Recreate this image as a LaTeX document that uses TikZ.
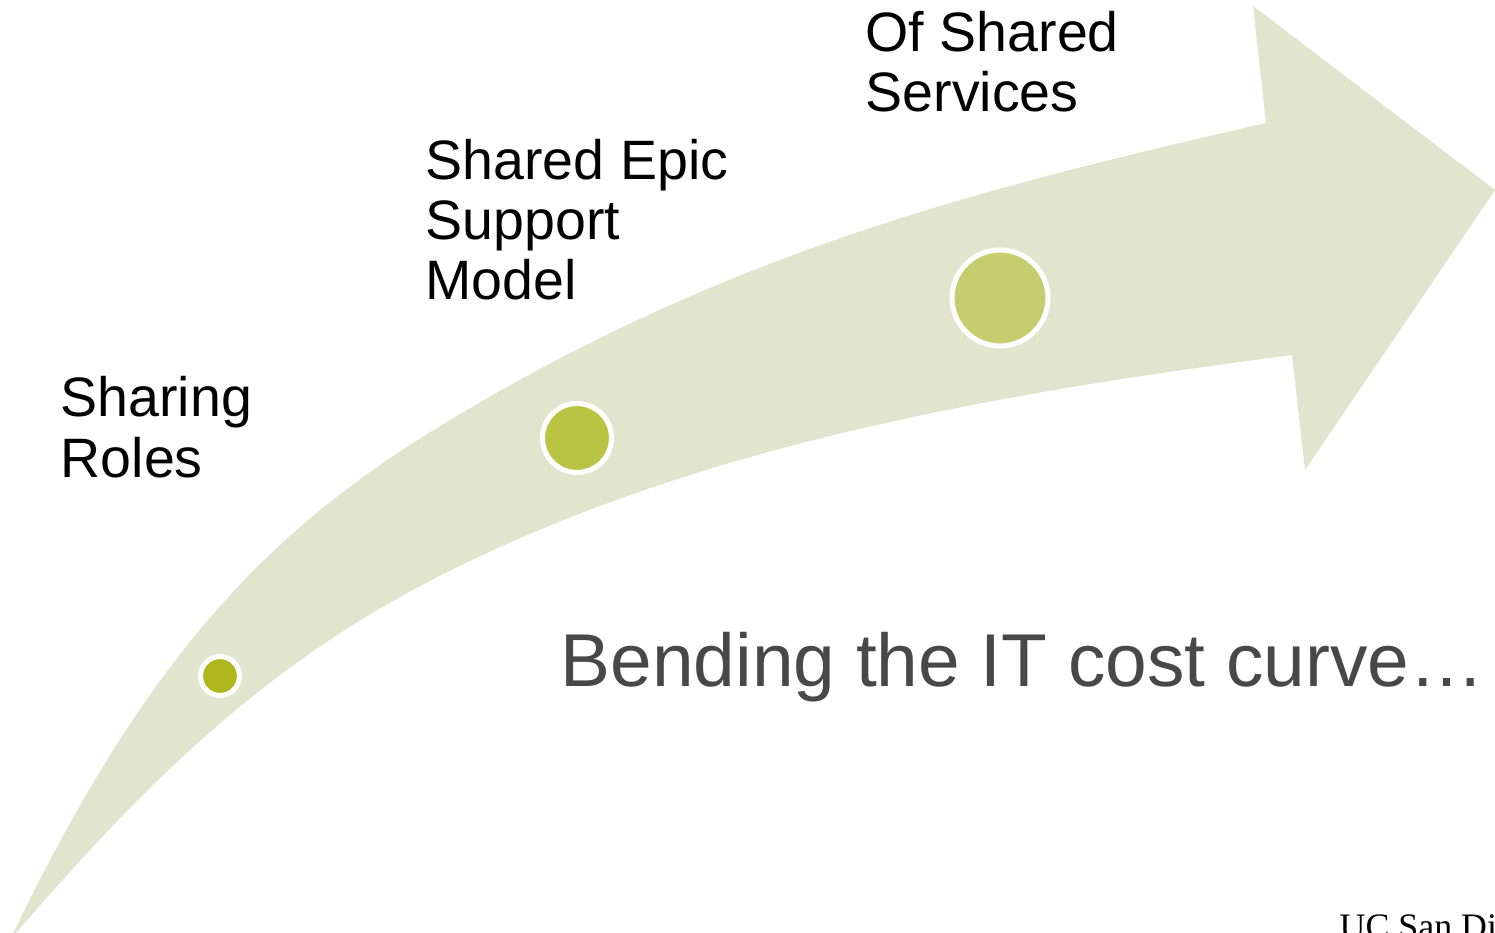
\documentclass[tikz,border=0pt]{standalone}
\usepackage{fontspec}
\setmainfont{Liberation Sans}
\newfontfamily\serifname{Liberation Serif}
\definecolor{bandgreen}{HTML}{E1E5CD}
\definecolor{dotone}{HTML}{AEB71D}
\definecolor{dottwo}{HTML}{BAC443}
\definecolor{dotthree}{HTML}{C6CD6E}
\definecolor{taggrey}{HTML}{484848}

\begin{document}
\begin{tikzpicture}[x=0.1mm,y=-0.1mm,
	dot/.style={circle,draw=white,line width=1.45pt,inner sep=0,outer sep=0},
	steplabel/.style={anchor=base west,inner sep=0,align=left,font=\fontsize{15.8}{17.1}\selectfont}]
	\useasboundingbox (0,0) rectangle (1495,932);
	\clip (0,0) rectangle (1495,932);
	% the bent arrow: upper edge, head, lower edge back to the tail
	\fill[bandgreen] (10,940) .. controls (152,643) and (279,523) .. (450,420)
		.. controls (733,250) and (983,188) .. (1266,123)
		-- (1253,6) -- (1495,190) -- (1305,470) -- (1292,355)
		.. controls (1024,390) and (746,436) .. (500,547)
		.. controls (318,629) and (192,727) .. (10,940) -- cycle;
	\node[dot,fill=dotone,minimum size=3.9mm] (1) at (220,676) {};
	\node[dot,fill=dottwo,minimum size=6.9mm] (2) at (577,438) {};
	\node[dot,fill=dotthree,minimum size=9.6mm] (3) at (1000,298) {};
	% labels sit on the baseline of their last line
	\node[steplabel] (roles) at (60,477) {Sharing\\Roles};
	\node[steplabel] (epic) at (425,300) {Shared Epic\\Support\\Model};
	\node[steplabel] (services) at (865,112) {Of Shared\\Services};
	\node[anchor=base west,inner sep=0,text=taggrey,font=\fontsize{21.3}{25}\selectfont] (tagline) at (560,686) {Bending the IT cost curve\dots};
	\node[anchor=base west,inner sep=0,font=\serifname\fontsize{10.2}{12}\selectfont] (campus) at (1339,938) {UC San Di};
\end{tikzpicture}
\end{document}
